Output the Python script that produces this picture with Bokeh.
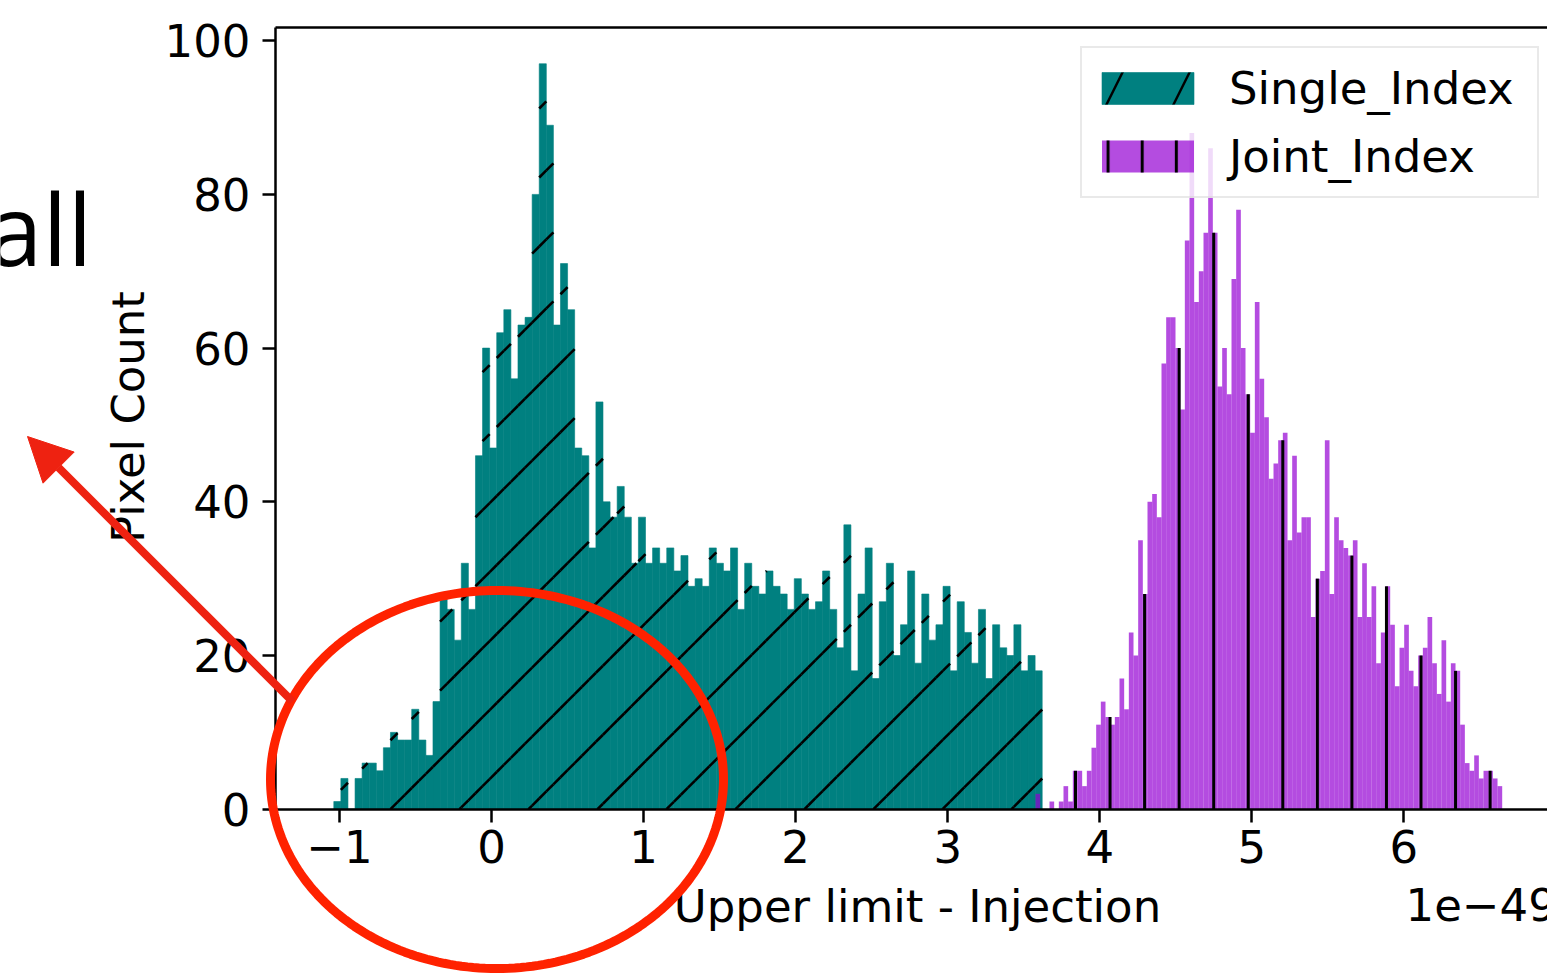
import math
import numpy as np
from bokeh.plotting import figure
from bokeh.models import (ColumnDataSource, FixedTicker, Legend, LegendItem, Label,
                          Arrow, NormalHead, PolyAnnotation, Range1d, LinearAxis)
from bokeh.embed import file_html
from bokeh.resources import INLINE

# ---------------- data ----------------
single_index_counts = [1, 4, 0, 4, 6, 6, 5, 8, 10, 9, 9, 13, 9, 7, 14, 28, 26, 22, 32, 26,
                       46, 60, 47, 62, 65, 56, 63, 64, 80, 97, 89, 63, 71, 65, 47, 46, 34, 53, 40, 38,
                       42, 38, 32, 38, 32, 34, 32, 34, 31, 33, 29, 30, 29, 34, 32, 31, 34, 26, 32, 29,
                       28, 31, 29, 28, 26, 30, 28, 26, 27, 31, 26, 21, 37, 18, 28, 34, 17, 27, 32, 20,
                       24, 31, 19, 28, 22, 24, 29, 18, 27, 23, 19, 26, 17, 24, 21, 20, 24, 18, 20, 18]
single_index_range = [-1.0375, 3.6212]

joint_index_counts = [2, 0, 0, 1, 0, 1, 3, 1, 5, 5, 3, 5, 8, 11, 14, 12, 11, 12, 17, 13,
                      23, 20, 35, 28, 40, 41, 38, 58, 64, 64, 60, 52, 74, 88, 66, 70, 75, 86, 75, 55,
                      60, 54, 69, 78, 60, 54, 49, 66, 56, 51, 43, 45, 48, 49, 35, 46, 36, 38, 38, 25,
                      30, 31, 48, 28, 38, 35, 34, 33, 35, 25, 32, 25, 29, 19, 23, 29, 24, 16, 21, 24,
                      18, 16, 20, 21, 25, 19, 15, 22, 14, 19, 18, 11, 6, 5, 7, 4, 5, 5, 4, 3]
joint_index_range = [3.5771, 6.6463]

x_ticks = [-1, 0, 1, 2, 3, 4, 5, 6, 7]
y_ticks = [0, 20, 40, 60, 80, 100]
series_labels = ["Single_Index", "Joint_Index"]
x_label = "Upper limit - Injection"
y_label = "Pixel Count"
offset_text = "1e\u221249"
note_text = "all"

# ---------------- layout constants (pixels of the canvas) ----------------
W, H = 1547, 977
X0_PX, X_SCALE = 491.06, 152.06      # canvas x of value 0, px per unit
Y0_PX, Y_SCALE = 808.7, 7.685        # canvas y of count 0, px per count
AX_LEFT, AX_RIGHT, AX_TOP = 275, 1559, 27
DIAG_STEP, DIAG_PHASE = 69.0, 25.7   # "/" hatch: lines x+y = phase + k*step (canvas px)
VERT_STEP, VERT_PHASE = 34.55, 1075.0  # "|" hatch: lines x = phase + k*step (canvas px)


def xv(cx):
    return (cx - X0_PX) / X_SCALE


def yv(cy):
    return (Y0_PX - cy) / Y_SCALE


def px(xd):
    return X0_PX + X_SCALE * xd


def py(yd):
    return Y0_PX - Y_SCALE * yd


def sy(cy):  # screen units (from bottom of the frame = canvas)
    return H - cy


FONT = "DejaVu Sans"
FS = "45px"
RED = "#ff2200"
ARROW_RED = "#ee2211"
TEAL = "#008080"
VIOLET = "darkviolet"

p = figure(width=W, height=H, output_backend="svg", toolbar_location=None,
           x_range=Range1d(xv(0), xv(W)), y_range=Range1d(yv(H), yv(0)),
           min_border_left=0, min_border_right=0, min_border_top=0, min_border_bottom=0)
p.outline_line_color = None
p.grid.visible = False
p.background_fill_color = "white"
p.border_fill_color = "white"

# ---- Single_Index histogram ----
edges_s = np.linspace(single_index_range[0], single_index_range[1], len(single_index_counts) + 1)
src_s = ColumnDataSource(dict(left=edges_s[:-1], right=edges_s[1:], top=single_index_counts))
r_s = p.quad(left="left", right="right", bottom=0, top="top", source=src_s,
             fill_color=TEAL, line_color=TEAL, line_width=0.6)

# "/" hatch clipped to each bar
hs = dict(x0=[], y0=[], x1=[], y1=[])
for l, r, top in zip(edges_s[:-1], edges_s[1:], single_index_counts):
    if top <= 0:
        continue
    L, R, T, B = px(l), px(r), py(top), py(0)
    kmin = math.floor((L + T - DIAG_PHASE) / DIAG_STEP)
    kmax = math.ceil((R + B - DIAG_PHASE) / DIAG_STEP)
    for k in range(kmin, kmax + 1):
        c = DIAG_PHASE + k * DIAG_STEP
        lo, hi = max(L, c - B), min(R, c - T)
        if hi - lo > 0.05:
            hs["x0"].append(xv(lo)); hs["y0"].append(yv(c - lo))
            hs["x1"].append(xv(hi)); hs["y1"].append(yv(c - hi))
p.segment(x0="x0", y0="y0", x1="x1", y1="y1", source=ColumnDataSource(hs),
          line_color="black", line_width=2.6)

# ---- Joint_Index histogram ----
edges_j = np.linspace(joint_index_range[0], joint_index_range[1], len(joint_index_counts) + 1)
src_j = ColumnDataSource(dict(left=edges_j[:-1], right=edges_j[1:], top=joint_index_counts))
r_j = p.quad(left="left", right="right", bottom=0, top="top", source=src_j,
             fill_color=VIOLET, fill_alpha=0.7, line_color=None)

hj = dict(x0=[], y0=[], x1=[], y1=[])
for l, r, top in zip(edges_j[:-1], edges_j[1:], joint_index_counts):
    if top <= 0:
        continue
    L, R = px(l), px(r)
    for k in range(math.ceil((L - VERT_PHASE) / VERT_STEP), math.floor((R - VERT_PHASE) / VERT_STEP) + 1):
        x = VERT_PHASE + k * VERT_STEP
        hj["x0"].append(xv(x)); hj["y0"].append(0)
        hj["x1"].append(xv(x)); hj["y1"].append(top)
p.segment(x0="x0", y0="y0", x1="x1", y1="y1", source=ColumnDataSource(hj),
          line_color="black", line_width=3)

# legend-only hatch overlays (zero-area shapes; they only paint the legend swatches)
leg_s = p.quad(left=[0], right=[0], top=[0], bottom=[0], fill_alpha=0, line_color=None,
               hatch_pattern="/", hatch_color="black", hatch_scale=134, hatch_weight=2.4)
leg_j = p.quad(left=[0], right=[0], top=[0], bottom=[0], fill_alpha=0, line_color=None,
               hatch_pattern="|", hatch_color="black", hatch_scale=34.13, hatch_weight=3)

# ---- axes drawn at fixed positions inside the full-canvas frame ----
top_val = yv(AX_TOP)
xa = p.xaxis[0]
ya = p.yaxis[0]
xa.fixed_location = 0
xa.bounds = (xv(AX_LEFT), xv(AX_RIGHT))
ya.fixed_location = xv(AX_LEFT)
ya.bounds = (0, top_val)
for ax in (xa, ya):
    ax.axis_line_width = 2.5
    ax.axis_line_color = "black"
    ax.major_tick_line_width = 2.5
    ax.major_tick_line_color = "black"
    ax.major_tick_out = 13
    ax.major_tick_in = 0
    ax.minor_tick_line_color = None
    ax.major_label_text_font = FONT
    ax.major_label_text_font_size = FS
    ax.major_label_text_color = "black"
xa.ticker = FixedTicker(ticks=x_ticks)
xa.major_label_overrides = {-1: "\u22121"}
xa.major_label_standoff = 8
ya.ticker = FixedTicker(ticks=y_ticks)
ya.major_label_standoff = 12

top_axis = LinearAxis(fixed_location=top_val, bounds=(xv(AX_LEFT), xv(AX_RIGHT)),
                      axis_line_width=2.5, axis_line_color="black",
                      major_tick_line_color=None, minor_tick_line_color=None,
                      major_label_text_alpha=0, ticker=FixedTicker(ticks=[]))
p.add_layout(top_axis, "above")

# axis titles and offset text
p.add_layout(Label(x=(AX_LEFT + AX_RIGHT) / 2, y=sy(906), x_units="screen", y_units="screen",
                   text=x_label, text_font=FONT, text_font_size=FS, text_align="center",
                   text_baseline="alphabetic", text_color="black"))
p.add_layout(Label(x=128, y=sy(416.5), x_units="screen", y_units="screen", angle=np.pi / 2,
                   text=y_label, text_font=FONT, text_font_size=FS, text_align="center",
                   text_baseline="alphabetic", text_color="black"))
p.add_layout(Label(x=1405, y=sy(904), x_units="screen", y_units="screen", text=offset_text,
                   text_font=FONT, text_font_size=FS, text_align="left",
                   text_baseline="alphabetic", text_color="black"))

# legend
legend = Legend(items=[LegendItem(label=series_labels[0], renderers=[r_s, leg_s]),
                       LegendItem(label=series_labels[1], renderers=[r_j, leg_j])],
                location=(1080, sy(198)), label_text_font=FONT, label_text_font_size=FS,
                label_text_color="black",
                glyph_width=115, glyph_height=40, label_standoff=24, padding=8, spacing=4,
                label_height=64, label_width=300,
                border_line_color="#d4d4d4", border_line_width=2.5,
                background_fill_color="white", background_fill_alpha=0.8, margin=0)
p.add_layout(legend)

# annotations: text, red ellipse and arrow
p.add_layout(Label(x=-13, y=sy(227), x_units="screen", y_units="screen", text=note_text,
                   text_font="Open Sans", text_font_size="99px", text_align="left",
                   text_baseline="alphabetic", text_color="black", level="overlay"))

t = np.linspace(0, 2 * np.pi, 241)
ecx, ecy, erx, ery = 496.5, 779.0, 226.5, 189.0
ell = PolyAnnotation(xs=[float(ecx + erx * np.cos(a)) for a in t],
                     ys=[float(sy(ecy + ery * np.sin(a))) for a in t],
                     xs_units="screen", ys_units="screen",
                     fill_alpha=0, line_color=RED, line_alpha=1.0, line_width=9,
                     level="overlay")
p.add_layout(ell)

arrow = Arrow(end=NormalHead(size=44, fill_color=ARROW_RED, line_color=ARROW_RED, line_width=1),
              x_start=292, y_start=sy(701), x_end=27, y_end=sy(436),
              start_units="screen", end_units="screen",
              line_color=ARROW_RED, line_width=8, level="overlay")
p.add_layout(arrow)

open("out.html", "w").write(file_html(p, INLINE))
